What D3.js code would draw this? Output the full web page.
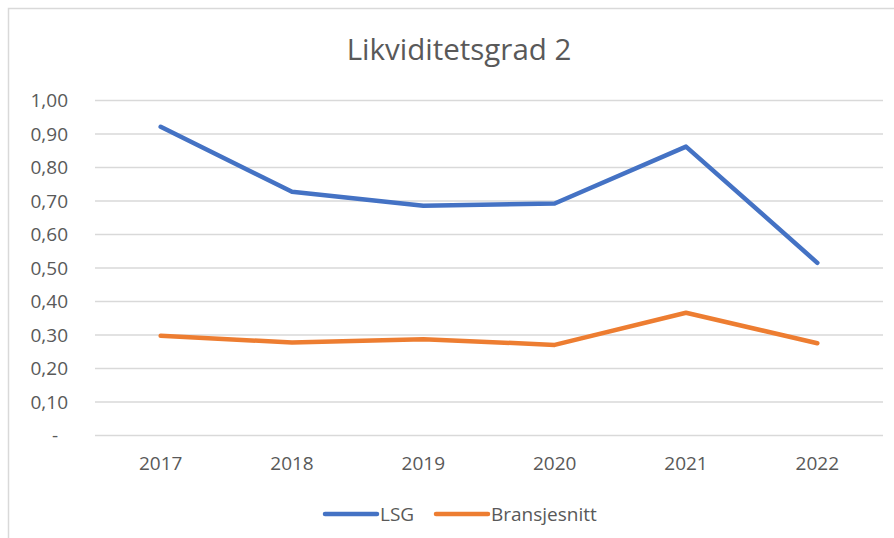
<!DOCTYPE html>
<meta charset="utf-8">
<style>
  body { margin: 0; background: #fff; }
  text { font-family: "Open Sans", sans-serif; fill: #595959; }
</style>
<svg width="894" height="538"></svg>

<script src="https://d3js.org/d3.v7.min.js"></script>
<script>
// data
var years = ["2017", "2018", "2019", "2020", "2021", "2022"]
var lsg = [0.920, 0.726, 0.684, 0.691, 0.861, 0.514]
var bransje = [0.296, 0.276, 0.286, 0.269, 0.365, 0.274]
var yTicks = [0, 0.1, 0.2, 0.3, 0.4, 0.5, 0.6, 0.7, 0.8, 0.9, 1.0]

var series = [
  { name: "LSG", color: "#4472C4", values: lsg },
  { name: "Bransjesnitt", color: "#ED7D31", values: bransje }
]

var svg = d3.select("svg")

// outer chart border (only top/left visible in the crop)
svg.append("rect")
  .attr("x", 8.5).attr("y", 8.5)
  .attr("width", 900).attr("height", 600)
  .attr("fill", "none")
  .attr("stroke", "#d9d9d9")
  .attr("stroke-width", 1.5)

var x = d3.scaleBand().domain(years).range([95, 883])
var y = d3.scaleLinear().domain([0, 1]).range([435, 100])

// title
svg.append("text")
  .attr("x", 459).attr("y", 60)
  .attr("text-anchor", "middle")
  .attr("font-size", 29.5)
  .text("Likviditetsgrad 2")

// gridlines + y labels
var yAxis = d3.axisLeft(y)
  .tickValues(yTicks)
  .tickSize(-(883 - 95))
  .tickPadding(27)
  .tickFormat(function (d) { return d === 0 ? "-" : d3.format(".2f")(d).replace(".", ",") })

var gy = svg.append("g").attr("transform", "translate(95,0)").call(yAxis)
gy.select(".domain").remove()
gy.selectAll(".tick line").attr("stroke", "#d9d9d9").attr("stroke-width", 1.5)
gy.selectAll(".tick text")
  .attr("font-size", 19)
  .attr("font-family", "Open Sans, sans-serif")
  .attr("fill", "#595959")
  .attr("dy", "0.35em")
  .attr("dx", function (d) { return d === 0 ? -10 : 0 })

// x labels
var xAxis = d3.axisBottom(x).tickSize(0).tickPadding(22)
var gx = svg.append("g").attr("transform", "translate(0,435)").call(xAxis)
gx.select(".domain").remove()
gx.selectAll(".tick text")
  .attr("font-size", 19)
  .attr("font-family", "Open Sans, sans-serif")
  .attr("fill", "#595959")

// lines
var line = d3.line()
  .x(function (d, i) { return x(years[i]) + x.bandwidth() / 2 })
  .y(function (d) { return y(d) })

svg.selectAll(".series")
  .data(series)
  .enter().append("path")
  .attr("class", "series")
  .attr("d", function (s) { return line(s.values) })
  .attr("fill", "none")
  .attr("stroke", function (s) { return s.color })
  .attr("stroke-width", 4.5)
  .attr("stroke-linejoin", "round")
  .attr("stroke-linecap", "round")

// legend
var legendX = [325, 436]
var legend = svg.selectAll(".legend")
  .data(series)
  .enter().append("g")
  .attr("class", "legend")
  .attr("transform", function (s, i) { return "translate(" + legendX[i] + ",514)" })

legend.append("line")
  .attr("x1", 0).attr("x2", 52)
  .attr("stroke", function (s) { return s.color })
  .attr("stroke-width", 4.5)
  .attr("stroke-linecap", "round")

legend.append("text")
  .attr("x", 55).attr("dy", "0.35em")
  .attr("font-size", 19)
  .text(function (s) { return s.name })
</script>
